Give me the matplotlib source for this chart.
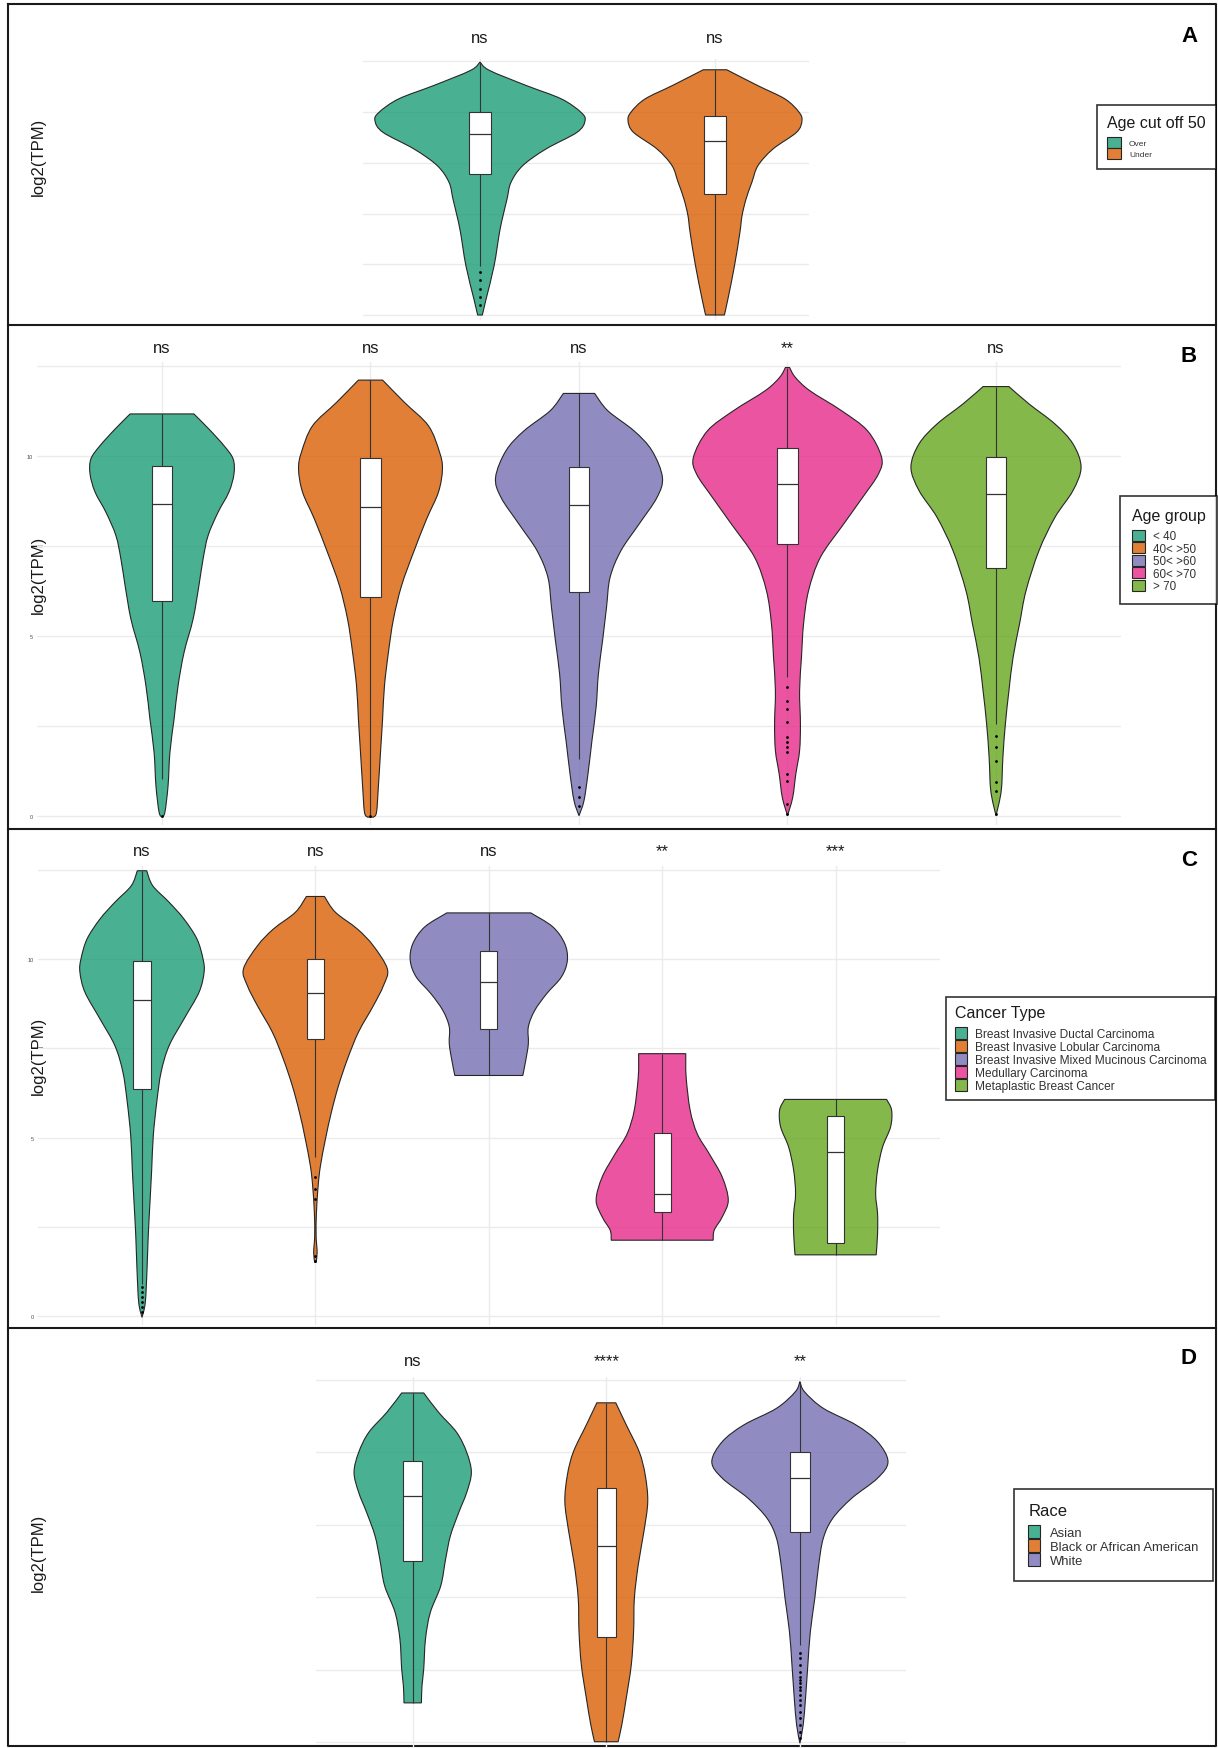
import matplotlib
matplotlib.use("Agg")
import matplotlib.pyplot as plt
from matplotlib.patches import Patch, Rectangle, PathPatch
from matplotlib.path import Path
from matplotlib.colors import to_rgba

plt.rcParams['font.family'] = ['Liberation Sans', 'DejaVu Sans']

# ---------------- data (log2(TPM) levels, violin half widths in category units) ----------------
dark2 = ['#1B9E77', '#D95F02', '#7570B3', '#E7298A', '#66A61E']

# Panel A: age cut off 50
a_groups = ['Over', 'Under']
a_over_y = [12.46, 12.05, 11.3, 10.64, 9.98, 9.57, 9.0, 8.18, 7.36, 6.54, 5.71, 4.89, 4.07, 2.43, 0.79, 0.0]
a_over_w = [0, .040, .198, .347, .430, .447, .413, .281, .182, .132, .115, .098, .083, .060, .026, .010]
a_under_y = [12.08, 11.3, 10.64, 10.0, 9.57, 9.0, 8.18, 7.36, 6.54, 5.71, 4.89, 4.07, 2.43, 0.79, 0.0]
a_under_w = [.050, .182, .298, .357, .370, .347, .247, .183, .157, .132, .115, .106, .083, .055, .040]
a_box = [[2.4, 6.95, 8.92, 10.0, 12.46], [0.0, 5.96, 8.57, 9.8, 12.08]]
a_out = [[2.1, 1.7, 1.3, 0.9, 0.5], []]
a_sig = ['ns', 'ns']

# Panel B: age group
b_groups = ['< 40', '40< >50', '50< >60', '60< >70', '> 70']
b_lt40_y = [11.16, 10.74, 10.28, 9.91, 9.49, 8.99, 8.43, 7.78, 7.13, 6.39, 5.46, 4.54, 3.61, 2.69, 1.76, 0.83, 0.1, -0.04]
b_lt40_w = [.153, .225, .297, .341, .345, .321, .269, .221, .197, .177, .149, .106, .077, .058, .038, .029, .014, 0]
b_4050_y = [12.1, 11.48, 10.83, 10.1, 9.63, 8.99, 8.24, 7.31, 6.39, 5.46, 4.54, 3.61, 2.69, 1.76, 0.83, 0.1, -0.04]
b_4050_w = [.058, .163, .278, .331, .345, .326, .269, .206, .149, .110, .086, .067, .058, .048, .038, .029, .014]
b_5060_y = [11.73, 11.25, 10.69, 10.14, 9.40, 8.84, 8.10, 7.36, 6.62, 5.79, 4.86, 3.94, 3.01, 2.08, 1.16, 0.42, 0.0]
b_5060_w = [.075, .138, .264, .350, .400, .374, .288, .201, .149, .132, .113, .093, .082, .062, .043, .024, 0]
b_6070_y = [12.45, 12.18, 11.81, 11.25, 10.69, 9.96, 9.49, 8.84, 8.10, 7.18, 6.25, 5.33, 4.40, 3.47, 2.55, 1.81, 1.16, 0.51, 0.0]
b_6070_w = [.010, .037, .106, .259, .384, .451, .436, .360, .269, .158, .101, .077, .067, .058, .062, .058, .040, .025, 0]
b_gt70_y = [11.92, 11.44, 10.88, 10.33, 9.68, 9.03, 8.29, 7.36, 6.25, 5.33, 4.40, 3.47, 2.55, 1.62, 0.69, 0.0]
b_gt70_w = [.062, .158, .283, .369, .408, .369, .283, .206, .144, .113, .082, .062, .045, .033, .025, 0]
b_box = [[1.02, 5.97, 8.65, 9.72, 11.16],
         [0.0, 6.08, 8.58, 9.93, 12.1],
         [1.57, 6.22, 8.63, 9.68, 11.73],
         [3.84, 7.55, 9.21, 10.21, 12.45],
         [2.55, 6.87, 8.94, 9.96, 11.92]]
b_out = [[0.0], [0.0],
         [0.79, 0.51, 0.28],
         [3.57, 3.19, 2.96, 2.59, 2.18, 2.04, 1.90, 1.76, 1.16, 0.97, 0.32, 0.05],
         [2.22, 1.90, 1.53, 0.93, 0.69, 0.05]]
b_sig = ['ns', 'ns', 'ns', '**', 'ns']

# Panel C: cancer type
c_groups = ['Breast Invasive Ductal Carcinoma', 'Breast Invasive Lobular Carcinoma',
            'Breast Invasive Mixed Mucinous Carcinoma', 'Medullary Carcinoma',
            'Metaplastic Breast Cancer']
c_duct_y = [12.47, 12.05, 11.59, 11.12, 10.56, 10.0, 9.63, 9.07, 8.32, 7.57, 6.83, 5.99, 5.05, 4.12, 3.19, 2.26, 1.32, 0.39, -0.03]
c_duct_w = [.027, .062, .156, .242, .317, .352, .358, .329, .242, .156, .110, .085, .065, .056, .046, .036, .029, .019, 0]
c_lob_y = [11.75, 11.31, 10.84, 10.37, 9.72, 9.25, 8.69, 7.95, 7.20, 6.45, 5.71, 4.96, 4.21, 3.66, 2.91, 2.26, 1.79, 1.51]
c_lob_w = [.052, .115, .242, .334, .415, .392, .334, .248, .185, .133, .092, .058, .029, .016, .006, .004, .010, .004]
c_muc_y = [11.29, 10.90, 10.43, 9.96, 9.50, 9.03, 8.56, 8.10, 7.63, 7.16, 6.74]
c_muc_w = [.242, .369, .438, .453, .419, .334, .265, .228, .228, .213, .196]
c_med_y = [7.35, 6.70, 5.77, 5.11, 4.55, 3.90, 3.25, 2.78, 2.41, 2.13]
c_med_w = [.136, .138, .161, .202, .271, .346, .381, .346, .300, .294]
c_met_y = [6.07, 5.77, 5.30, 4.74, 4.09, 3.43, 2.87, 2.31, 1.72]
c_met_w = [.294, .323, .317, .271, .242, .231, .242, .242, .234]
c_box = [[0.9, 6.36, 8.85, 9.95, 12.47],
         [4.45, 7.76, 9.05, 10.0, 11.75],
         [6.74, 8.03, 9.36, 10.21, 11.29],
         [2.13, 2.92, 3.43, 5.13, 7.35],
         [1.72, 2.05, 4.60, 5.60, 6.07]]
c_out = [[0.81, 0.67, 0.53, 0.39, 0.25, 0.11],
         [3.89, 3.56, 3.28, 1.70, 1.56], [], [], []]
c_sig = ['ns', 'ns', 'ns', '**', '***']

# Panel D: race
d_groups = ['Asian', 'Black or African American', 'White']
d_asian_y = [12.05, 11.38, 10.69, 10.0, 9.31, 8.62, 7.93, 7.13, 6.32, 5.40, 4.48, 3.56, 2.53, 1.95, 1.36]
d_asian_w = [.057, .134, .227, .279, .303, .279, .238, .195, .170, .145, .091, .066, .057, .048, .045]
d_black_y = [11.71, 10.95, 10.02, 9.22, 8.30, 7.26, 6.12, 4.97, 3.82, 2.67, 1.52, 0.60, 0.02]
d_black_w = [.049, .103, .170, .201, .214, .194, .165, .145, .141, .129, .103, .080, .061]
d_white_y = [12.44, 12.09, 11.52, 10.95, 10.37, 9.68, 9.11, 8.42, 7.73, 7.04, 6.12, 4.97, 3.82, 2.67, 1.52, 0.60, -0.03]
d_white_w = [0, .024, .121, .289, .401, .455, .401, .268, .170, .121, .097, .077, .054, .041, .029, .017, 0]
d_box = [[1.36, 6.27, 8.51, 9.69, 12.05],
         [0.02, 3.64, 6.77, 8.76, 11.71],
         [3.36, 7.24, 9.11, 10.0, 12.44]]
d_out = [[], [], [3.07, 2.90, 2.67, 2.44, 2.26, 2.15, 2.03, 1.92, 1.80, 1.63, 1.46, 1.29, 1.06, 0.83, 0.60, 0.37, 0.14]]
d_sig = ['ns', '****', '**']

# ---------------- layout ----------------
W, H = 1218, 1749
fig = plt.figure(figsize=(W / 100, H / 100), dpi=100)
fig.patch.set_facecolor('white')

over = fig.add_axes([0, 0, 1, 1])
over.set_xlim(0, W)
over.set_ylim(H, 0)
over.axis('off')
over.patch.set_alpha(0)


def px_axes(c1, unit, xlim, y0, ppu, ylim):
    left = c1 + (xlim[0] - 1) * unit
    right = c1 + (xlim[1] - 1) * unit
    top = y0 - ylim[1] * ppu
    bottom = y0 - ylim[0] * ppu
    ax = fig.add_axes([left / W, 1 - bottom / H, (right - left) / W, (bottom - top) / H])
    ax.set_xlim(*xlim)
    ax.set_ylim(*ylim)
    return ax


def style(ax, n, ticklabels):
    ax.patch.set_alpha(0)
    for s in ax.spines.values():
        s.set_visible(False)
    ax.set_xticks(range(1, n + 1))
    ax.set_xticklabels([])
    ax.set_yticks([0, 5, 10])
    ax.set_yticks([2.5, 7.5, 12.5], minor=True)
    ax.grid(True, which='both', color='#EBEBEB', lw=1.0, zorder=0)
    ax.set_axisbelow(True)
    ax.tick_params(which='both', length=0)
    if ticklabels:
        ax.set_yticklabels(['0', '5', '10'], fontsize=4, color='#4D4D4D')
        ax.tick_params(axis='y', pad=3)
    else:
        ax.set_yticklabels([])


def bezier_side(pts):
    # smooth outline through the read points (Catmull-Rom as cubic Bezier)
    verts = []
    n = len(pts)
    for i in range(n - 1):
        p0 = pts[i - 1] if i > 0 else pts[i]
        p1, p2 = pts[i], pts[i + 1]
        p3 = pts[i + 2] if i + 2 < n else pts[i + 1]
        c1 = (p1[0] + (p2[0] - p0[0]) / 6, p1[1] + (p2[1] - p0[1]) / 6)
        c2 = (p2[0] - (p3[0] - p1[0]) / 6, p2[1] - (p3[1] - p1[1]) / 6)
        verts += [c1, c2, p2]
    return verts


def draw_violin(ax, x, ys, ws, color, stats, outl, bw=0.05):
    left = [(x - w, y) for y, w in zip(ys, ws)]
    right = [(x + w, y) for y, w in zip(ys[::-1], ws[::-1])]
    lv = bezier_side(left)
    rv = bezier_side(right)
    verts = [left[0]] + lv + [right[0]] + rv + [left[0]]
    codes = ([Path.MOVETO] + [Path.CURVE4] * len(lv) + [Path.LINETO]
             + [Path.CURVE4] * len(rv) + [Path.CLOSEPOLY])
    ax.add_patch(PathPatch(Path(verts, codes), facecolor=to_rgba(color, 0.8),
                           edgecolor='#262626', lw=0.8, zorder=2))
    wlo, q1, med, q3, whi = stats
    ax.vlines(x, wlo, q1, color='#333333', lw=0.8, zorder=2.5)
    ax.vlines(x, q3, whi, color='#333333', lw=0.8, zorder=2.5)
    ax.add_patch(Rectangle((x - bw, q1), 2 * bw, q3 - q1, facecolor='white',
                           edgecolor='#333333', lw=0.8, zorder=3))
    ax.hlines(med, x - bw, x + bw, color='#333333', lw=0.9, zorder=4)
    if outl:
        ax.scatter([x] * len(outl), outl, s=4, c='black', lw=0, zorder=4)


def add_legend(title, labels, colors, right, top, fs, tfs, hl, hh, htp, bp, sep):
    handles = [Patch(facecolor=to_rgba(c, 0.8), edgecolor='#262626', lw=0.8) for c in colors]
    leg = fig.legend(handles, labels, title=title, loc='upper right',
                     bbox_to_anchor=(right / W, 1 - top / H), borderaxespad=0,
                     frameon=True, fancybox=False, fontsize=fs, title_fontsize=tfs,
                     handlelength=hl, handleheight=hh, handletextpad=htp,
                     labelspacing=0, borderpad=bp, alignment='left')
    leg._legend_box.sep = sep
    leg.get_frame().set_edgecolor('black')
    leg.get_frame().set_linewidth(1.2)
    for t in leg.get_texts():
        t.set_color('#333333')
    leg.get_title().set_color('#1A1A1A')
    return leg


panels = [
    dict(c1=480, unit=235, xlim=(0.5, 2.4), y0=316, ppu=20.3, ylim=(-0.25, 12.6), ticks=False,
         violins=[(a_over_y, a_over_w), (a_under_y, a_under_w)], box=a_box, out=a_out,
         sig=a_sig, sig_y=13.47, bw=0.048),
    dict(c1=162, unit=208.5, xlim=(0.4, 5.6), y0=816.7, ppu=36.0, ylim=(-0.25, 12.6), ticks=True,
         violins=[(b_lt40_y, b_lt40_w), (b_4050_y, b_4050_w), (b_5060_y, b_5060_w),
                  (b_6070_y, b_6070_w), (b_gt70_y, b_gt70_w)], box=b_box, out=b_out,
         sig=b_sig, sig_y=12.87, bw=0.05),
    dict(c1=142, unit=173.4, xlim=(0.4, 5.6), y0=1317.3, ppu=35.73, ylim=(-0.25, 12.6), ticks=True,
         violins=[(c_duct_y, c_duct_w), (c_lob_y, c_lob_w), (c_muc_y, c_muc_w),
                  (c_med_y, c_med_w), (c_met_y, c_met_w)], box=c_box, out=c_out,
         sig=c_sig, sig_y=12.91, bw=0.05),
    dict(c1=412.7, unit=193.6, xlim=(0.5, 3.55), y0=1743.3, ppu=28.99, ylim=(-0.2, 12.6), ticks=False,
         violins=[(d_asian_y, d_asian_w), (d_black_y, d_black_w), (d_white_y, d_white_w)],
         box=d_box, out=d_out, sig=d_sig, sig_y=13.01, bw=0.05),
]

for p in panels:
    ax = px_axes(p['c1'], p['unit'], p['xlim'], p['y0'], p['ppu'], p['ylim'])
    n = len(p['violins'])
    style(ax, n, p['ticks'])
    for i, (ys, ws) in enumerate(p['violins']):
        draw_violin(ax, i + 1, ys, ws, dark2[i], p['box'][i], p['out'][i], p['bw'])
        ax.text(i + 1, p['sig_y'], p['sig'][i], ha='center', va='baseline',
                fontsize=12, color='#1A1A1A')

# legends
add_legend('Age cut off 50', a_groups, dark2[:2], 1216, 106, 6, 11.5, 1.68, 1.6, 0.95, 1.25, 5)
add_legend('Age group', b_groups, dark2, 1217, 497, 8.4, 11.5, 1.11, 1.08, 0.75, 1.0, 5)
add_legend('Cancer Type', c_groups, dark2, 1215, 998, 8.6, 11.5, 1.04, 1.13, 0.67, 0.7, 5)
add_legend('Race', d_groups, dark2[:3], 1213, 1490, 9.4, 12, 0.92, 1.15, 0.76, 1.1, 5)

# y labels, panel letters, frame
for yc in [157, 575, 1056, 1553]:
    over.text(38, yc, 'log2(TPM)', rotation=90, ha='center', va='center', fontsize=12, color='#1A1A1A')
for letter, yc in zip('ABCD', [37, 357, 861, 1359]):
    over.text(1189, yc, letter, ha='center', va='center', fontsize=16, fontweight='bold')

over.plot([8, 1216, 1216, 8, 8], [5, 5, 1747, 1747, 5], color='#1A1A1A', lw=1.5)
for yl in [326, 830, 1329]:
    over.plot([8, 1216], [yl, yl], color='#1A1A1A', lw=1.5)

fig.savefig('out.png', dpi=100, facecolor='white')
